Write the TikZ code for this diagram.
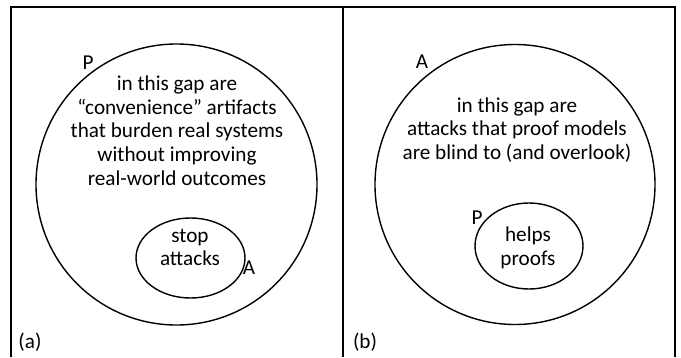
\documentclass[tikz,border=0pt]{standalone}
\usepackage{fontspec}
\setmainfont{Carlito}
\usetikzlibrary{shapes.geometric}
\begin{document}
\begin{tikzpicture}[x=1pt,y=-1pt,
  frame/.style={line width=2pt,black},
  set/.style={draw,line width=1.4pt,inner sep=0pt},
  lbl/.style={font=\fontsize{21.2}{23.7}\selectfont,inner sep=0pt},
  body/.style={lbl,align=center}]
\useasboundingbox (0,0) rectangle (681,357);
% frames
\coordinate (tl) at (11,7);
\coordinate (tr) at (675,7);
\coordinate (tm) at (342.5,7);
\coordinate (bl) at (11,357);
\coordinate (br) at (675,357);
\coordinate (bm) at (342.5,357);
\draw[frame] (bl) -- (tl) -- (tr) -- (br);
\draw[frame] (tm) -- (bm);
% panel (a)
\node[set,circle,minimum size=281pt] (Pa) at (176.5,184.5) {};
\node[set,ellipse,minimum width=109pt,minimum height=80pt] (Aa) at (190.5,258) {};
\node[body] (ta) at (177,130.5) {in this gap are\\“convenience” artifacts\\that burden real systems\\without improving\\real-world outcomes};
\node[body] (sa) at (190,247.5) {stop\\attacks};
\node[lbl] (lPa) at (88,63) {P};
\node[lbl] (lAa) at (249,268) {A};
\node[lbl] (capa) at (30,342) {(a)};
% panel (b)
\node[set,circle,minimum size=280pt] (Ab) at (515,184.5) {};
\node[set,ellipse,minimum width=108pt,minimum height=86pt] (Pb) at (529,246) {};
\node[body] (tb) at (517,130) {in this gap are\\attacks that proof models\\are blind to (and overlook)};
\node[body] (sb) at (528,248) {helps\\proofs};
\node[lbl] (lPb) at (477,218) {P};
\node[lbl] (lAb) at (422,62) {A};
\node[lbl] (capb) at (365,342) {(b)};
\end{tikzpicture}
\end{document}
